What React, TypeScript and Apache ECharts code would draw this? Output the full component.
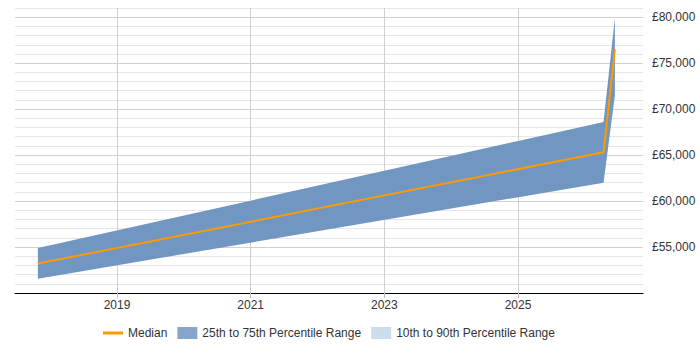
import React, { useEffect, useRef } from "react";
import * as echarts from "echarts";

const dates = ["2017-10-26", "2026-04-13", "2026-06-14"];
const p25 = [51550, 62000, 71500];
const median = [53200, 65300, 76500];
const p75 = [54900, 68600, 79900];
const yearTicks = [2019, 2021, 2023, 2025];
const legendNames = ["Median", "25th to 75th Percentile Range", "10th to 90th Percentile Range"];

function toYear(s: string): number {
  const d = new Date(s + "T00:00:00Z");
  const y = d.getUTCFullYear();
  const a = Date.UTC(y, 0, 1);
  const b = Date.UTC(y + 1, 0, 1);
  return y + (d.getTime() - a) / (b - a);
}

export default function App() {
  const ref = useRef<HTMLDivElement>(null);
  useEffect(() => {
    if (!ref.current) return;
    const chart = echarts.init(ref.current, undefined, { renderer: "svg" });
    const xs = dates.map(toYear);
    const font = "Liberation Sans, Arial, sans-serif";
    const bandColor = "#7096C1";
    chart.setOption({
      animation: false,
      textStyle: { fontFamily: font },
      grid: { left: 15, right: 57, top: 8, bottom: 57 },
      legend: {
        left: 98,
        top: 322,
        itemWidth: 20,
        itemHeight: 12,
        itemGap: 10,
        textStyle: { fontSize: 12, color: "#333", fontFamily: font },
        data: [
          { name: legendNames[0], icon: "path://M0,0L20,0L20,3L0,3Z", itemStyle: { color: "#FF9900" } },
          { name: legendNames[1], icon: "rect", itemStyle: { color: "#87A5C9" } },
          { name: legendNames[2], icon: "rect", itemStyle: { color: "#CCDDEE" } },
        ],
      },
      xAxis: {
        type: "value",
        min: 2017.474,
        max: 2026.87,
        axisLine: { show: true, lineStyle: { color: "#000", width: 1 } },
        axisTick: { show: true, length: 5, lineStyle: { color: "#bbb" }, customValues: yearTicks },
        axisLabel: {
          customValues: yearTicks,
          formatter: (v: number) => String(Math.round(v)),
          color: "#333",
          fontSize: 12,
          margin: 6,
          fontFamily: font,
        },
        splitLine: { show: true, lineStyle: { color: "#d0d0d0", width: 1 } },
      },
      yAxis: {
        type: "value",
        position: "right",
        min: 50000,
        max: 81000,
        interval: 1000,
        axisLine: { show: false },
        axisTick: { show: false },
        axisLabel: {
          color: "#333",
          fontSize: 12,
          margin: 9,
          fontFamily: font,
          formatter: (v: number) =>
            v % 5000 === 0 && v > 50000 ? "£" + v.toLocaleString("en-GB") : "",
        },
        splitLine: {
          show: true,
          lineStyle: { color: ["#d0d0d0", "#e6e6e6", "#e6e6e6", "#e6e6e6", "#e6e6e6"], width: 1 },
        },
      },
      series: [
        {
          name: legendNames[1],
          type: "custom",
          color: bandColor,
          data: xs.map((x, i) => [x, p25[i], p75[i]]),
          encode: { x: 0, y: [1, 2] },
          renderItem: (params: any, api: any) => {
            if (params.dataIndex !== 0) return null;
            const top = xs.map((x, i) => api.coord([x, p75[i]]));
            const bottom = xs.map((x, i) => api.coord([x, p25[i]])).reverse();
            return {
              type: "polygon",
              shape: { points: top.concat(bottom) },
              style: { fill: bandColor, stroke: null },
            };
          },
          z: 2,
        },
        {
          name: legendNames[2],
          type: "line",
          data: [],
          symbol: "none",
          color: "#CCDDEE",
        },
        {
          name: legendNames[0],
          type: "line",
          data: xs.map((x, i) => [x, median[i]]),
          symbol: "none",
          color: "#FF9900",
          lineStyle: { color: "#FF9900", width: 2 },
          z: 5,
        },
      ],
    });
    return () => chart.dispose();
  }, []);
  return (
    <div
      ref={ref}
      style={{ position: "fixed", left: 0, top: 0, width: 700, height: 350, background: "#fff" }}
    />
  );
}
